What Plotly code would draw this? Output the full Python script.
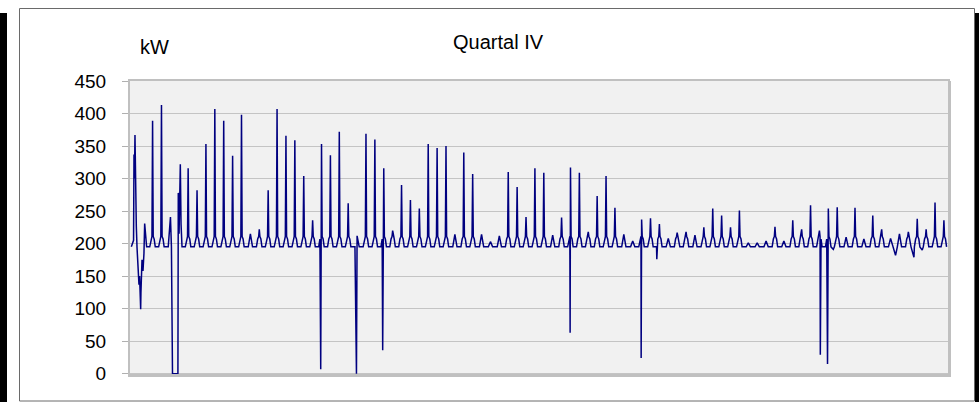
import plotly.graph_objects as go

# ---------------- data ----------------
base_kw = 195      # flat night-time level
shoulder_kw = 207  # small plateau at the foot of each daily peak

# daily peak (kW) for the 92 days of the quarter; None = day drawn from extra points only
daily_peak_kw = [None, None, 389, 413, None, None, 316, 282, 353, 407,
                 389, 335, 398, 215, 222, 282, 407, 366, 359, 304,
                 236, 353, 336, 372, 262, 212, 369, 360, 316, 220,
                 290, 267, 254, 353, 347, 350, 214, 340, 307, 214,
                 203, 212, 310, 287, 241, 316, 309, 213, 240, 317,
                 309, 218, 273, 304, 255, 214, 204, 237, 239, 230,
                 208, 217, 218, 213, 225, 254, 243, 225, 251, 201,
                 201, 204, 226, 204, 236, 222, 259, 220, 254, 256,
                 210, 255, 207, 243, 222, 208, 215, 218, 238, 222,
                 263, 236]

# irregular readings (time in days from start of quarter, kW)
extra_day = [0.15, 0.40, 0.45, 0.50, 0.56, 0.64, 0.71, 0.79, 0.90, 1.01,
             1.08, 1.12, 1.16, 1.20, 1.23, 1.27, 1.35, 1.46, 1.57, 1.65,
             1.76, 1.87,
             4.30, 4.55, 4.66, 4.72, 4.75, 4.78, 5.39, 5.43, 5.52, 5.66,
             5.74, 5.85,
             21.45, 25.47, 28.42, 49.50, 57.49, 59.25, 77.64, 78.45, 79.10,
             86.10, 88.17, 89.10]
extra_kw = [195, 205, 337, 300, 367, 250, 227, 194, 150, 137,
            150, 128, 145, 99, 125, 143, 175, 158, 185, 231,
            214, 195,
            195, 241, 195, 0, 15, 0, 0, 278, 215, 322,
            230, 195,
            7, 0, 36, 63, 24, 176, 29, 15, 191,
            182, 179, 190]

y_ticks = [0, 50, 100, 150, 200, 250, 300, 350, 400, 450]

# ---------------- build the series ----------------
pts = []
for d, pk in enumerate(daily_peak_kw):
    if pk is None:
        continue
    if pk > shoulder_kw + 8:
        pts += [(d + 0.22, base_kw), (d + 0.36, shoulder_kw), (d + 0.47, shoulder_kw + 4),
                (d + 0.54, pk), (d + 0.61, shoulder_kw + 4), (d + 0.72, shoulder_kw),
                (d + 0.84, base_kw)]
    else:
        pts += [(d + 0.30, base_kw), (d + 0.54, pk), (d + 0.78, base_kw)]
pts += list(zip(extra_day, extra_kw))
pts.sort(key=lambda p: p[0])
xs = [p[0] for p in pts]
ys = [p[1] for p in pts]

W, H = 979, 402
L, R, T, B = 130, 948, 81, 375
def px(x):
    return (x - L) / (R - L)
def py(y):
    return (B - y) / (B - T)

FONT = "Liberation Sans, Arial, sans-serif"

fig = go.Figure()
fig.add_trace(go.Scatter(x=xs, y=ys, mode="lines",
                         line=dict(color="#000080", width=1.5),
                         hoverinfo="skip", showlegend=False))

shapes = [
    # black bars at the left and right edges
    dict(type="rect", xref="paper", yref="paper", x0=px(0), x1=px(7), y0=py(402), y1=py(13),
         fillcolor="black", line=dict(width=0), layer="above"),
    dict(type="rect", xref="paper", yref="paper", x0=px(975), x1=px(979), y0=py(402), y1=py(13),
         fillcolor="black", line=dict(width=0), layer="above"),
    # outer chart frame
    dict(type="rect", xref="paper", yref="paper", x0=px(19.5), x1=px(974.5), y0=py(401), y1=py(8.5),
         line=dict(color="#6a6a6a", width=1), layer="above"),
    # thicker right / bottom plot border
    dict(type="line", xref="paper", yref="paper", x0=px(949.5), x1=px(949.5), y0=py(376.5), y1=py(81),
         line=dict(color="#c0c0c0", width=3), layer="above"),
    dict(type="line", xref="paper", yref="paper", x0=px(130), x1=px(951), y0=py(375.5), y1=py(375.5),
         line=dict(color="#c0c0c0", width=3), layer="above"),
]

fig.update_layout(
    width=W, height=H,
    margin=dict(l=L, r=W - R, t=T, b=H - B, pad=0),
    paper_bgcolor="white",
    plot_bgcolor="#f1f1f1",
    showlegend=False,
    font=dict(family=FONT, color="black"),
    xaxis=dict(range=[0, 92], showgrid=False, zeroline=False, showticklabels=False,
               ticks="", showline=True, mirror=True, linecolor="#c0c0c0", linewidth=2,
               fixedrange=True),
    yaxis=dict(range=[-2, 450], tickvals=y_ticks, ticktext=[str(v) for v in y_ticks],
               showgrid=True, gridcolor="#c4c4c4", gridwidth=1, zeroline=False,
               ticks="outside", ticklen=6, tickcolor="#b0b0b0", tickwidth=1,
               ticklabelstandoff=12,
               tickfont=dict(family=FONT, size=19, color="black"),
               showline=True, mirror=True, linecolor="#c0c0c0", linewidth=2,
               fixedrange=True),
    shapes=shapes,
    annotations=[
        dict(text="Quartal IV", xref="paper", yref="paper", x=px(498), y=py(42),
             xanchor="center", yanchor="middle", showarrow=False,
             font=dict(family=FONT, size=20, color="black")),
        dict(text="kW", xref="paper", yref="paper", x=px(154), y=py(47),
             xanchor="center", yanchor="middle", showarrow=False,
             font=dict(family=FONT, size=20, color="black")),
    ],
)

fig.write_html("out.html", config={"displayModeBar": False},
               post_script="document.body.style.margin='0';document.body.style.overflow='hidden';")
